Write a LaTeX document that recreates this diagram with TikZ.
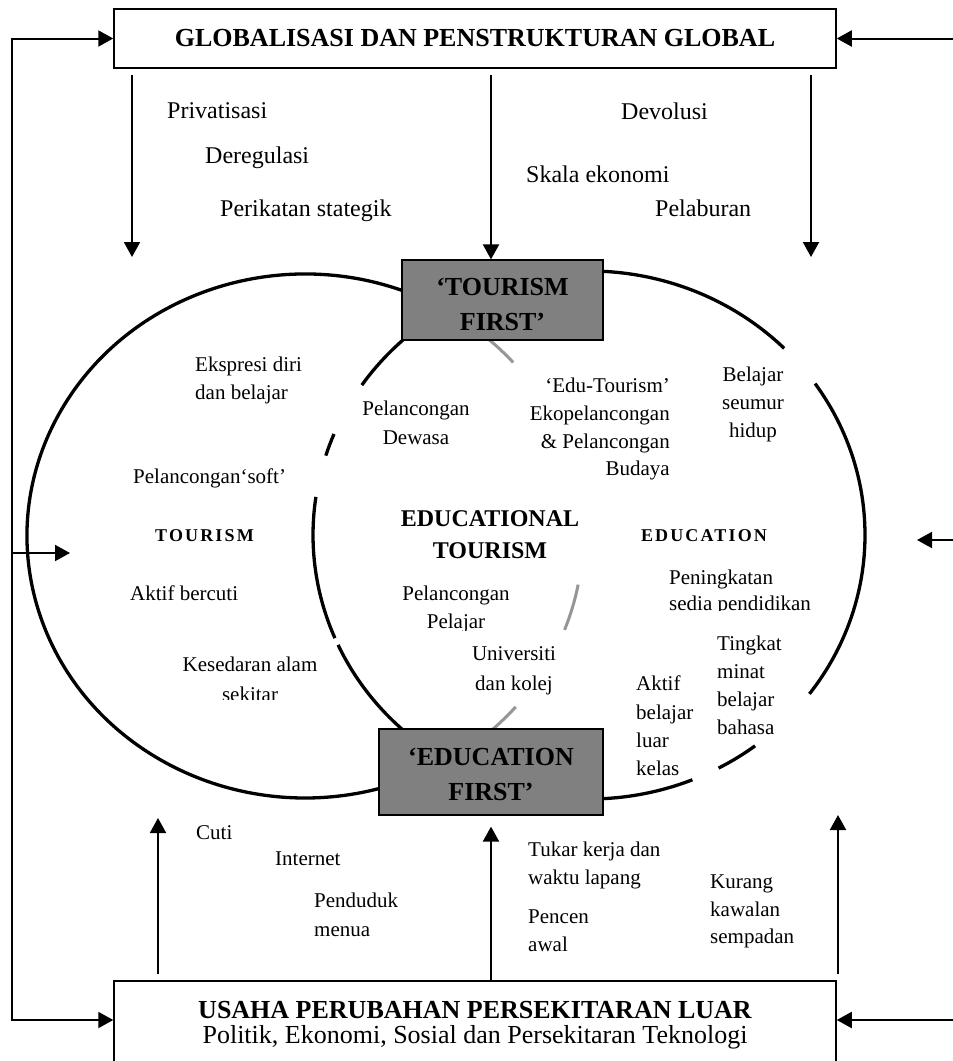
\documentclass[tikz,border=0pt]{standalone}
\usepackage{fontspec}
\setmainfont{Liberation Serif}
\newfontfamily\lsfont{Liberation Serif}[LetterSpace=12]
\usetikzlibrary{arrows.meta,calc}
\definecolor{boxgray}{RGB}{128,128,128}
\definecolor{arcgray}{RGB}{150,150,150}
\tikzset{
  arr/.style={line width=2pt,-{Triangle[length=15pt,width=16pt]}},
  bigbox/.style={draw,line width=1.5pt,minimum width=722pt,inner sep=0pt,align=center,font=\bfseries\fontsize{26}{25}\selectfont},
  firstbox/.style={draw,line width=1.2pt,fill=boxgray,inner sep=0pt,align=center,font=\bfseries\fontsize{26}{35}\selectfont},
  ring/.style={line width=3.3pt},
  ringgray/.style={line width=3pt,draw=arcgray},
  lbl/.style={inner sep=0pt,font=\fontsize{21}{28}\selectfont},
  toplbl/.style={inner sep=0pt,font=\fontsize{24}{28}\selectfont,anchor=north west},
  zone/.style={inner sep=0pt,font=\lsfont\bfseries\fontsize{18}{22}\selectfont},
}
\begin{document}
\begin{tikzpicture}[x=1pt,y=-1pt]
\useasboundingbox (0,0) rectangle (953,1061);
\clip (0,0) rectangle (953,1061);

% ellipse centres
\coordinate (L) at (305,536);
\coordinate (R) at (589,535);

% left ellipse (TOURISM), black outer part
\draw[ring] (L) ++(-60:278 and 262) arc[start angle=-60,end angle=-290,x radius=278,y radius=262];
% left ellipse, grey inner part
\draw[ringgray] (L) ++(-55:278 and 262) arc[start angle=-55,end angle=-41.5,x radius=278,y radius=262];
\draw[ringgray] (L) ++(10.7:278 and 262) arc[start angle=10.7,end angle=21,x radius=278,y radius=262];
\draw[ringgray] (L) ++(40.7:278 and 262) arc[start angle=40.7,end angle=55,x radius=278,y radius=262];

% right ellipse (EDUCATION)
\draw[ring] (R) ++(-100:276 and 264) arc[start angle=-100,end angle=-45,x radius=276,y radius=264];
\draw[ring] (R) ++(-35:276 and 264) arc[start angle=-35,end angle=37,x radius=276,y radius=264];
\draw[ring] (R) ++(53:276 and 264) arc[start angle=53,end angle=62,x radius=276,y radius=264];
\draw[ring] (R) ++(68:276 and 264) arc[start angle=68,end angle=100,x radius=276,y radius=264];
\draw[ring] (R) ++(-125:276 and 264) arc[start angle=-125,end angle=-145.4,x radius=276,y radius=264];
\draw[ring] (R) ++(-157.5:276 and 264) arc[start angle=-157.5,end angle=-162.5,x radius=276,y radius=264];
\draw[ring] (R) ++(-171.7:276 and 264) arc[start angle=-171.7,end angle=-203,x radius=276,y radius=264];
\draw[ring] (R) ++(-204.6:276 and 264) arc[start angle=-204.6,end angle=-235,x radius=276,y radius=264];

% boxes
\node[bigbox,minimum height=59pt] (top) at (475,38.5) {GLOBALISASI DAN PENSTRUKTURAN GLOBAL};
\node[bigbox,minimum height=88pt] (bot) at (475,1025) {USAHA PERUBAHAN PERSEKITARAN LUAR\\\mdseries Politik, Ekonomi, Sosial dan Persekitaran Teknologi};
\node[firstbox,minimum width=201pt,minimum height=80pt] (tf) at (502.5,300) {\rule{0pt}{26.6pt}‘TOURISM\\FIRST’};
\node[firstbox,minimum width=224pt,minimum height=86pt] (ef) at (491,772) {\rule{0pt}{22.6pt}‘EDUCATION\\FIRST’};

% connector ends
\coordinate (a1) at (132,257);
\coordinate (a3) at (811,257);
\coordinate (m1) at (491,0);
\coordinate (b1) at (158,818);
\coordinate (b3) at (838,815);
\coordinate (lc) at (12,553);
\coordinate (ltip) at (70,553);
\coordinate (ly) at (0,1020);
\coordinate (rx) at (953,0);
\coordinate (rb) at (953,1020);
\coordinate (rm) at (953,540);
\coordinate (rtip) at (917,540);

% arrows from global box
\draw[arr] ($(top.south -| a1)+(0,6)$) -- (a1);
\draw[arr] ($(top.south -| m1)+(0,6)$) -- (tf.north -| m1);
\draw[arr] ($(top.south -| a3)+(0,6)$) -- (a3);
% arrows from external box
\draw[arr] ($(bot.north -| b1)+(0,-6)$) -- (b1);
\draw[arr] (bot.north -| m1) -- ($(ef.south -| m1)+(0,11)$);
\draw[arr] ($(bot.north -| b3)+(0,-6)$) -- (b3);
% outer feedback lines
\draw[arr,line join=miter] (lc) -- (top.west -| lc) -- (top.west);
\draw[arr,line join=miter] (lc) -- (ly -| lc) -- (bot.west |- ly);
\draw[arr] (lc) -- (ltip);
\draw[arr] (top.east -| rx) -- (top.east);
\draw[arr] (rb) -- (bot.east |- rb);
\draw[arr] (rm) -- (rtip);

% labels, top
\node[toplbl] (priv) at (167,102.5) {Privatisasi};
\node[toplbl] (dereg) at (205,146.5) {Deregulasi};
\node[toplbl] (perik) at (220,199.5) {Perikatan stategik};
\node[toplbl] (devol) at (621,102.5) {Devolusi};
\node[toplbl] (skala) at (526,165.5) {Skala ekonomi};
\node[toplbl] (pelab) at (655,199.5) {Pelaburan};

% labels, tourism
\node[lbl,anchor=north west,align=left] (eks) at (195,357) {Ekspresi diri\\dan belajar};
\node[lbl,anchor=north west] (soft) at (133,469) {Pelancongan‘soft’};
\node[zone] (tlab) at (204.5,536) {TOURISM};
\node[lbl,anchor=north west] (akt) at (130,586) {Aktif bercuti};
\begin{scope}
\clip (150,640) rectangle (350,699.5);
\node[lbl,anchor=north,align=center,font=\fontsize{21}{30}\selectfont] (kes) at (250,657) {Kesedaran alam\\sekitar};
\end{scope}

% labels, educational tourism
\node[lbl,anchor=north,align=center,font=\fontsize{21}{29}\selectfont] (dew) at (416,401) {Pelancongan\\Dewasa};
\node[lbl,anchor=north east,align=right,font=\fontsize{21}{27.7}\selectfont] (edt) at (670,378) {‘Edu-Tourism’\\Ekopelancongan\\\& Pelancongan\\Budaya};
\node[anchor=north,align=center,inner sep=0pt,font=\bfseries\fontsize{24}{32}\selectfont] (et) at (490,510) {EDUCATIONAL\\TOURISM};
\begin{scope}
\clip (380,570) rectangle (540,630);
\node[lbl,anchor=north,align=center,font=\fontsize{21}{28}\selectfont] (pp) at (456,585.5) {Pelancongan\\Pelajar};
\end{scope}
\node[lbl,anchor=north,align=center,font=\fontsize{21}{30}\selectfont] (uni) at (514,646) {Universiti\\dan kolej};

% labels, education
\node[lbl,anchor=north,align=center] (bsh) at (753,367) {Belajar\\seumur\\hidup};
\node[zone] (elab) at (704,536) {EDUCATION};
\begin{scope}
\clip (650,560) rectangle (840,610);
\node[lbl,anchor=north west,align=left,font=\fontsize{21}{26}\selectfont] (pen) at (669,570) {Peningkatan\\sedia pendidikan};
\end{scope}
\node[lbl,anchor=north west,align=left] (ting) at (717,636) {Tingkat\\minat\\belajar\\bahasa};
\node[lbl,anchor=north west,align=left,font=\fontsize{21}{28.3}\selectfont] (abl) at (636,676) {Aktif\\belajar\\luar\\kelas};

% labels, bottom
\node[lbl,anchor=north west] (cuti) at (196,825) {Cuti};
\node[lbl,anchor=north west] (inet) at (275,852) {Internet};
\node[lbl,anchor=north west,align=left,font=\fontsize{21}{29}\selectfont] (pdk) at (314,893) {Penduduk\\menua};
\node[lbl,anchor=north west,align=left] (tuk) at (528,842) {Tukar kerja dan\\waktu lapang};
\node[lbl,anchor=north west,align=left] (pcn) at (528,910) {Pencen\\awal};
\node[lbl,anchor=north west,align=left,font=\fontsize{21}{27.5}\selectfont] (kur) at (710,875) {Kurang\\kawalan\\sempadan};
\end{tikzpicture}
\end{document}
